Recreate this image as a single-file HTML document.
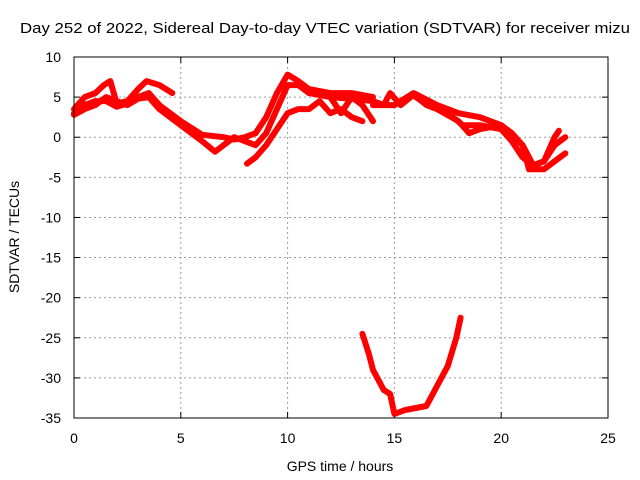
<!DOCTYPE html>
<html><head><meta charset="utf-8"><style>
body{margin:0;background:#fff;}
svg{display:block;font-family:"Liberation Sans",sans-serif;}
</style></head><body>
<svg id="chart" width="640" height="480">
<text x="20" y="33" font-size="14.5" textLength="610" lengthAdjust="spacingAndGlyphs">Day 252 of 2022, Sidereal Day-to-day VTEC variation (SDTVAR) for receiver mizu</text>
<g id="grid"></g>
<g id="series"></g>
<rect x="74" y="57" width="534" height="361" fill="none" stroke="#000" stroke-width="1"/>
<text x="340" y="471" font-size="14" text-anchor="middle">GPS time / hours</text>
<text transform="translate(19,237) rotate(-90)" font-size="14" text-anchor="middle">SDTVAR / TECUs</text>
</svg>
<script>
const xTicks=[0,5,10,15,20,25];
const yTicks=[10,5,0,-5,-10,-15,-20,-25,-30,-35];
const s1=[[0,3.5],[0.5,5],[1,5.5],[1.4,6.5],[1.7,7],[2,4.2],[2.5,4.5],[3,6],[3.4,7],[4,6.5],[4.6,5.5]];
const s2=[[0,3],[0.5,4],[1,4.5],[1.5,4.5],[2,3.8],[2.5,4.2],[3,5],[3.5,5.5],[4,4],[5,2],[6,0.3],[7,0],[7.5,-0.3],[8,0],[8.5,0.5],[9,2.5],[9.5,5.5],[10,7.8],[10.5,7],[11,6],[12,5.5],[13,5.5],[14,5]];
const s3=[[0,2.8],[0.5,3.5],[1,4],[1.5,5],[2,4.5],[2.5,4],[3,4.8],[3.5,5],[4,3.5],[5,1.5],[6,-0.5],[6.6,-1.8],[7,-1],[7.5,0],[8,-0.5],[8.5,-1],[9,0.5],[9.5,3.5],[10,6.5],[10.5,6.5],[11,5.5],[12,5],[12.5,3],[13,5],[13.5,4],[14,2]];
const s4=[[8.1,-3.3],[8.5,-2.5],[9,-1],[9.5,1],[10,3],[10.5,3.5],[11,3.5],[11.5,4.5],[12,3],[12.5,3.5],[13,2.5],[13.5,2]];
const s5=[[12,5],[13,4.8],[14,4.5],[14.5,4],[14.8,5.5],[15.3,4],[15.9,5.3],[16.5,4],[17.5,3],[18.2,1.5],[19,1.5],[20,1],[20.5,-0.5],[21,-2.5],[21.5,-3.5],[22,-3],[22.5,-1],[23,0]];
const s6=[[14,4],[15,4],[15.9,5.5],[17,4],[18,3],[19,2.5],[20,1.5],[20.5,0.5],[21,-1],[21.3,-4],[22,-4],[22.5,-3],[23,-2]];
const s7=[[16,5],[17,3.5],[18,2],[18.5,0.5],[19,1],[20,1.5],[21,-1],[21.5,-3.5],[22,-3],[22.5,0],[22.7,0.8]];
const s8=[[13.5,-24.5],[13.8,-27],[14,-29],[14.5,-31.5],[14.8,-32],[15,-34.5],[15.5,-34],[16.5,-33.5],[17,-31],[17.5,-28.5],[17.9,-25],[18.1,-22.5]];
const allSeries=[s1,s2,s3,s4,s5,s6,s7,s8];
const NS="http://www.w3.org/2000/svg";
function X(h){return 74+(h-0)*(534/25);}
function Y(v){return 57+(10-v)*(361/45);}
const grid=document.getElementById('grid');
function tick(x1,y1,x2,y2){const l=document.createElementNS(NS,'line');
  l.setAttribute('x1',x1);l.setAttribute('y1',y1);l.setAttribute('x2',x2);l.setAttribute('y2',y2);
  l.setAttribute('stroke','#000');
  
  
  grid.appendChild(l);}
xTicks.forEach(t=>{
  if(t>0&&t<25){const l=document.createElementNS(NS,'line');
  l.setAttribute('x1',X(t));l.setAttribute('x2',X(t));l.setAttribute('y1',57);l.setAttribute('y2',418);
  l.setAttribute('stroke','#999');l.setAttribute('stroke-dasharray','2,3');
  
  
  grid.appendChild(l);}
  tick(X(t),418,X(t),412);tick(X(t),57,X(t),63);
  const tx=document.createElementNS(NS,'text');
  tx.setAttribute('x',X(t));tx.setAttribute('y',443);tx.setAttribute('text-anchor','middle');tx.setAttribute('font-size','14');
  tx.textContent=t;
  
  
  grid.appendChild(tx);
});
yTicks.forEach(t=>{
  if(t<10&&t>-35){const l=document.createElementNS(NS,'line');
  l.setAttribute('x1',74);l.setAttribute('x2',608);l.setAttribute('y1',Y(t));l.setAttribute('y2',Y(t));
  l.setAttribute('stroke','#999');l.setAttribute('stroke-dasharray','2,3');
  
  
  grid.appendChild(l);}
  tick(74,Y(t),80,Y(t));tick(608,Y(t),602,Y(t));
  const tx=document.createElementNS(NS,'text');
  tx.setAttribute('x',61);tx.setAttribute('y',Y(t)+5);tx.setAttribute('text-anchor','end');tx.setAttribute('font-size','14');
  tx.textContent=t;
  
  
  grid.appendChild(tx);
});
const sg=document.getElementById('series');
allSeries.forEach((s,i)=>{
  const p=document.createElementNS(NS,'polyline');
  p.setAttribute('points',s.map(d=>X(d[0]).toFixed(1)+','+Y(d[1]).toFixed(1)).join(' '));
  p.setAttribute('fill','none');p.setAttribute('stroke','#f00');p.setAttribute('stroke-width','6');
  p.setAttribute('stroke-linejoin','round');p.setAttribute('stroke-linecap','round');
  
  
  sg.appendChild(p);
});
</script>
</body></html>
